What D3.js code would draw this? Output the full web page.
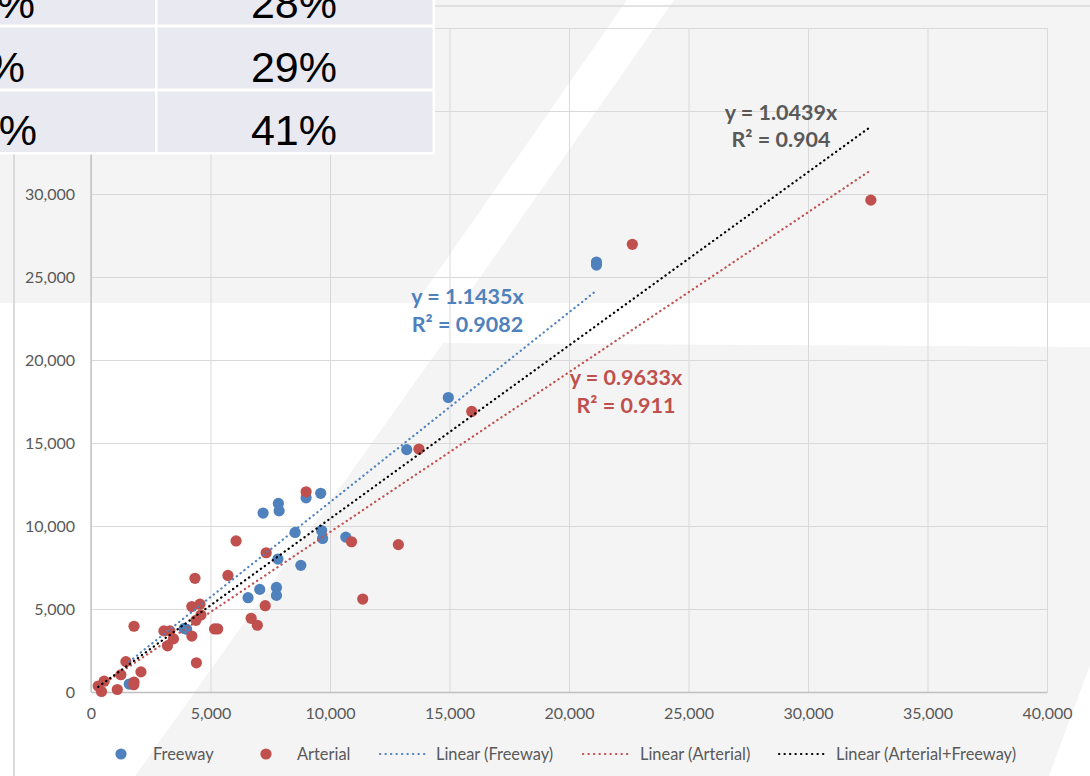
<!DOCTYPE html>
<html><head><meta charset="utf-8">
<script src="https://cdn.jsdelivr.net/npm/d3@7"></script>
<style>html,body{margin:0;padding:0;background:#fff;overflow:hidden}</style>
</head><body>
<svg id="c" width="1090" height="776"></svg>
<script>
// ---- data ----
const freeway = [
  [1600, 480], [3900, 3830], [4000, 3780], [6570, 5680], [7060, 6180],
  [7760, 6300], [7760, 5820], [7820, 8010], [8780, 7630], [8540, 9610],
  [9650, 9730], [9690, 9250], [10660, 9330], [7200, 10780], [7840, 11360],
  [7870, 10910], [9000, 11700], [9610, 11970], [13210, 14600], [14950, 17740],
  [21150, 25720], [21150, 25900]
];
const arterial = [
  [300, 360], [440, 30], [550, 650], [1100, 150], [1250, 1040], [1460, 1830],
  [1800, 600], [1790, 440], [2090, 1210], [1800, 3960], [3050, 3680], [3300, 3680],
  [3450, 3200], [3200, 2780], [4220, 3370], [4410, 1760], [4390, 4320], [4600, 4640],
  [4220, 5150], [4560, 5290], [4350, 6850], [5170, 3800], [5300, 3800], [5730, 7020],
  [6070, 9100], [6700, 4440], [6960, 4020], [7290, 5200], [7330, 8390], [9000, 12060],
  [10900, 9050], [12860, 8880], [11370, 5600], [13720, 14640], [15930, 16900],
  [22650, 26970], [32630, 29630]
];
const xTicks = [0, 5000, 10000, 15000, 20000, 25000, 30000, 35000, 40000];
const yTicks = [0, 5000, 10000, 15000, 20000, 25000, 30000, 35000, 40000];
const yTickLabels = [0, 5000, 10000, 15000, 20000, 25000, 30000]; // 35,000 / 40,000 sit under the table
const slopes = [1.1435, 0.9633, 1.0439];          // Freeway, Arterial, Arterial+Freeway
const eqLabels = ["y = 1.1435x", "y = 0.9633x", "y = 1.0439x"];
const r2Labels = ["R\u00B2 = 0.9082", "R\u00B2 = 0.911", "R\u00B2 = 0.904"];
const legendLabels = ["Freeway", "Arterial", "Linear (Freeway)", "Linear (Arterial)", "Linear (Arterial+Freeway)"];
const tableCol1 = ["%", "%", "%"];
const tableCol2 = ["28%", "29%", "41%"];

// ---- styles ----
const BLUE = "#4f81bd", RED = "#c0504d", BLACK = "#000000";
const GREY_BG = "#f4f4f4";
const TXT = "#595959";
const FONT = "Lato, 'Open Sans', sans-serif";

const svg = d3.select("#c");

// ---- slide background ----
svg.append("rect").attr("width", 1090).attr("height", 776).attr("fill", "#ffffff");
svg.append("rect").attr("x", 0).attr("y", 0).attr("width", 1090).attr("height", 303).attr("fill", GREY_BG);
svg.append("polygon").attr("points", "627,0 674,0 462,303 416,303").attr("fill", "#ffffff");
svg.append("polygon").attr("points", "443,343 1090,347 1090,665 1049,776 135,776").attr("fill", GREY_BG);

// chart frame lines
svg.append("line").attr("x1", 14).attr("x2", 14).attr("y1", 0).attr("y2", 776)
  .attr("stroke", "#d0d0d0").attr("stroke-width", 1.5);
svg.append("line").attr("x1", 14).attr("x2", 1090).attr("y1", 6).attr("y2", 6)
  .attr("stroke", "#dadada").attr("stroke-width", 1.5);

// ---- scales ----
const x = d3.scaleLinear().domain([0, 40000]).range([91, 1047]);
const y = d3.scaleLinear().domain([0, 40000]).range([692, 28]);

// gridlines
const gx = svg.append("g").attr("transform", "translate(0,692)")
  .call(d3.axisBottom(x).tickValues(xTicks).tickSize(-(692 - 28)).tickFormat(""));
gx.select(".domain").remove();
gx.selectAll("line").attr("stroke", "#d9d9d9").attr("stroke-width", 1);
const gy = svg.append("g").attr("transform", "translate(91,0)")
  .call(d3.axisLeft(y).tickValues(yTicks).tickSize(-(1047 - 91)).tickFormat(""));
gy.select(".domain").remove();
gy.selectAll("line").attr("stroke", "#d9d9d9").attr("stroke-width", 1);

// axes
const fmt = d3.format(",");
const ax = svg.append("g").attr("transform", "translate(0,692)")
  .call(d3.axisBottom(x).tickValues(xTicks).tickSize(0).tickPadding(16).tickFormat(fmt));
ax.select(".domain").attr("stroke", "#bfbfbf").attr("stroke-width", 1.3);
ax.selectAll("text").attr("fill", TXT).style("font-family", FONT).style("font-size", "16px");
const ay = svg.append("g").attr("transform", "translate(91,0)")
  .call(d3.axisLeft(y).tickValues(yTickLabels).tickSize(0).tickPadding(16).tickFormat(fmt));
ay.select(".domain").attr("stroke", "#bfbfbf").attr("stroke-width", 1.3)
  .attr("d", `M0,${y(0)}V${y(40000)}`);
ay.selectAll("text").attr("fill", TXT).style("font-family", FONT).style("font-size", "16px");

// ---- points ----
const R = 5.6;
svg.append("g").selectAll("circle").data(freeway).join("circle")
  .attr("cx", d => x(d[0])).attr("cy", d => y(d[1])).attr("r", R).attr("fill", BLUE);
svg.append("g").selectAll("circle").data(arterial).join("circle")
  .attr("cx", d => x(d[0])).attr("cy", d => y(d[1])).attr("r", R).attr("fill", RED);

// ---- trendlines (through origin, over each series' x-range) ----
const all = freeway.concat(arterial);
const sets = [[freeway, BLUE], [arterial, RED], [all, BLACK]];
const lineGen = d3.line().x(d => x(d[0])).y(d => y(d[1]));
sets.forEach(([data, col], i) => {
  const ext = d3.extent(data, d => d[0]);
  const pts = ext.map(v => [v, slopes[i] * v]);
  svg.append("path").attr("d", lineGen(pts)).attr("fill", "none")
    .attr("stroke", col).attr("stroke-width", 2.2)
    .attr("stroke-linecap", "round").attr("stroke-dasharray", "0.3,4.6");
});

// ---- trendline labels ----
const labelPos = [[467.5, 303.5, 331.5, BLUE], [626, 385, 413.3, RED], [781, 120, 147, TXT]];
labelPos.forEach(([cx, y1, y2, col], i) => {
  const t = svg.append("text").attr("text-anchor", "middle").attr("fill", col)
    .style("font-family", FONT).style("font-weight", 700).style("font-size", "21.5px");
  t.append("tspan").attr("x", cx).attr("y", y1).text(eqLabels[i]);
  t.append("tspan").attr("x", cx).attr("y", y2).text(r2Labels[i]);
});

// ---- legend ----
const LY = 754;
const leg = svg.append("g").style("font-family", FONT).style("font-size", "16.4px");
[[121, BLUE], [266, RED]].forEach(([cx, col]) =>
  leg.append("circle").attr("cx", cx).attr("cy", LY).attr("r", R).attr("fill", col));
[[380, 425, BLUE], [583, 629, RED], [779, 826, BLACK]].forEach(([a, b, col]) =>
  leg.append("line").attr("x1", a).attr("x2", b).attr("y1", LY).attr("y2", LY)
    .attr("stroke", col).attr("stroke-width", 2.2).attr("stroke-linecap", "round")
    .attr("stroke-dasharray", "0.3,5.2"));
[153, 297, 436, 640, 836].forEach((tx, i) =>
  leg.append("text").attr("x", tx).attr("y", LY).attr("dy", "0.35em")
    .attr("fill", TXT).text(legendLabels[i]));

// ---- overlay table (top-left) ----
const tb = svg.append("g");
tb.append("rect").attr("x", 0).attr("y", 0).attr("width", 435).attr("height", 154.5).attr("fill", "#ffffff");
const rowsY = [[0, 24.5], [27.5, 88.5], [91.5, 152]];
rowsY.forEach(([a, b]) => {
  tb.append("rect").attr("x", 0).attr("y", a).attr("width", 155).attr("height", b - a).attr("fill", "#e9e9f1");
  tb.append("rect").attr("x", 157.5).attr("y", a).attr("width", 275).attr("height", b - a).attr("fill", "#e9e9f1");
});
const baseY = [18, 82, 145];
const col1End = [35, 25, 37];
baseY.forEach((by, i) => {
  tb.append("text").attr("x", col1End[i]).attr("y", by).attr("text-anchor", "end")
    .style("font-family", "'Liberation Sans', Arial, sans-serif").style("font-size", "43px")
    .attr("fill", "#000").text(tableCol1[i]);
  tb.append("text").attr("x", 294).attr("y", by).attr("text-anchor", "middle")
    .style("font-family", "'Liberation Sans', Arial, sans-serif").style("font-size", "43px")
    .attr("fill", "#000").text(tableCol2[i]);
});
</script>
</body></html>
